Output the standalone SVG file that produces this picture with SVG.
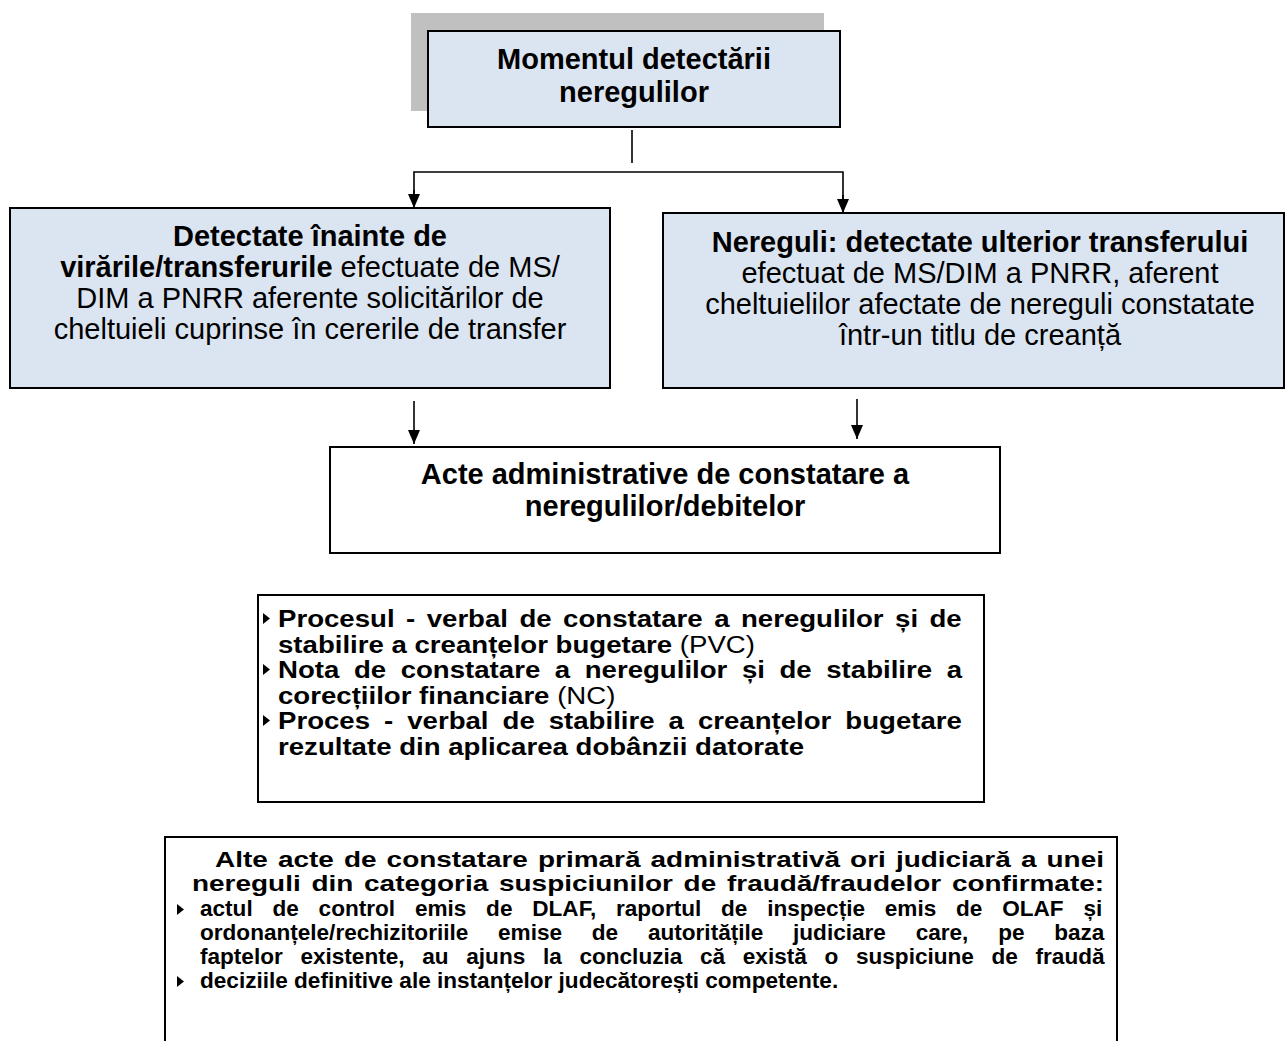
<svg xmlns="http://www.w3.org/2000/svg" width="1285" height="1041" viewBox="0 0 1285 1041">
<defs>
<style>
text{font-family:"Liberation Sans",Arial,sans-serif;fill:#000}
.b{font-weight:bold}
.n{font-weight:normal}
.box{fill:#dbe5f1;stroke:#000;stroke-width:2}
.wbox{fill:#fff;stroke:#000;stroke-width:2}
.ln{stroke:#000;stroke-width:1.6;fill:none}
.c{text-anchor:middle}
.t{font-size:29px}
.p{font-size:24px}
.s{font-size:21.5px}
.h{font-size:21.5px}
.bul{fill:#000}
</style>
<marker id="arr" viewBox="0 0 14 12" refX="14" refY="6" markerWidth="14" markerHeight="12" markerUnits="userSpaceOnUse" orient="auto"><path d="M0,0 L14,6 L0,12 z" fill="#000"/></marker>
</defs>
<g id="n-top">
<rect x="411" y="13" width="413" height="98" fill="#c0c0c0"/>
<rect class="box" x="428" y="31" width="412" height="96"/>
<text class="t b c" x="634" y="69">Momentul detectării</text>
<text class="t b c" x="634" y="102">neregulilor</text>
</g>
<g id="n-left">
<rect class="box" x="10" y="208" width="600" height="180"/>
<text class="t c b" x="310" y="246">Detectate înainte de</text>
<text class="t c" x="310" y="277"><tspan class="b">virările/transferurile</tspan> efectuate de MS/</text>
<text class="t c" x="310" y="308">DIM a PNRR aferente solicitărilor de</text>
<text class="t c" x="310" y="339">cheltuieli cuprinse în cererile de transfer</text>
</g>
<g id="n-right">
<rect class="box" x="663" y="213" width="621" height="175"/>
<text class="t c b" x="980" y="252">Nereguli: detectate ulterior transferului</text>
<text class="t c" x="980" y="283">efectuat de MS/DIM a PNRR, aferent</text>
<text class="t c" x="980" y="314">cheltuielilor afectate de nereguli constatate</text>
<text class="t c" x="980" y="345">într-un titlu de creanță</text>
</g>
<g id="n-acte">
<rect class="wbox" x="330" y="447" width="670" height="106"/>
<text class="t c b" x="665" y="484">Acte administrative de constatare a</text>
<text class="t c b" x="665" y="516">neregulilor/debitelor</text>
</g>
<g id="n-pvc">
<rect class="wbox" x="258" y="595" width="726" height="207"/>
<g class="p b">
<path class="bul" d="M263,613 L270,618.5 L263,624 z"/>
<text transform="translate(278,627) scale(1.15,1)" word-spacing="3.3">Procesul - verbal de constatare a neregulilor și de</text>
<text transform="translate(278,653) scale(1.15,1)">stabilire a creanțelor bugetare <tspan class="n">(PVC)</tspan></text>
<path class="bul" d="M263,664 L270,669.5 L263,675 z"/>
<text transform="translate(278,678) scale(1.15,1)" word-spacing="6">Nota de constatare a neregulilor și de stabilire a</text>
<text transform="translate(278,704) scale(1.15,1)">corecțiilor financiare <tspan class="n">(NC)</tspan></text>
<path class="bul" d="M263,715 L270,720.5 L263,726 z"/>
<text transform="translate(278,729) scale(1.15,1)" word-spacing="5.5">Proces - verbal de stabilire a creanțelor bugetare</text>
<text transform="translate(278,755) scale(1.15,1)">rezultate din aplicarea dobânzii datorate</text>
</g>
</g>
<g id="n-alte">
<rect class="wbox" x="165" y="837" width="952" height="215"/>
<g class="b">
<text class="h" transform="translate(215,867) scale(1.3,1)" word-spacing="1.8">Alte acte de constatare primară administrativă ori judiciară a unei</text>
<text class="h" transform="translate(192,891) scale(1.3,1)" word-spacing="2.3">nereguli din categoria suspiciunilor de fraudă/fraudelor confirmate:</text>
<path class="bul" d="M177,904 L184,909.5 L177,915 z"/>
<text class="s" transform="translate(200,916) scale(1.05,1)" word-spacing="12.9">actul de control emis de DLAF, raportul de inspecție emis de OLAF și</text>
<text class="s" transform="translate(200,940) scale(1.05,1)" word-spacing="22.4">ordonanțele/rechizitoriile emise de autoritățile judiciare care, pe baza</text>
<text class="s" transform="translate(200,964) scale(1.05,1)" word-spacing="10.9">faptelor existente, au ajuns la concluzia că există o suspiciune de fraudă</text>
<path class="bul" d="M177,976 L184,981.5 L177,987 z"/>
<text class="s" transform="translate(200,988) scale(1.05,1)">deciziile definitive ale instanțelor judecătorești competente.</text>
</g>
</g>
<g id="connectors">
<line class="ln" x1="632" y1="130" x2="632" y2="163"/>
<polyline class="ln" points="414,196 414,172 843,172 843,200"/>
<line class="ln" x1="414" y1="190" x2="414" y2="208" marker-end="url(#arr)"/>
<line class="ln" x1="843" y1="195" x2="843" y2="213" marker-end="url(#arr)"/>
<line class="ln" x1="414" y1="401" x2="414" y2="444" marker-end="url(#arr)"/>
<line class="ln" x1="857" y1="399" x2="857" y2="439" marker-end="url(#arr)"/>
</g>
</svg>
